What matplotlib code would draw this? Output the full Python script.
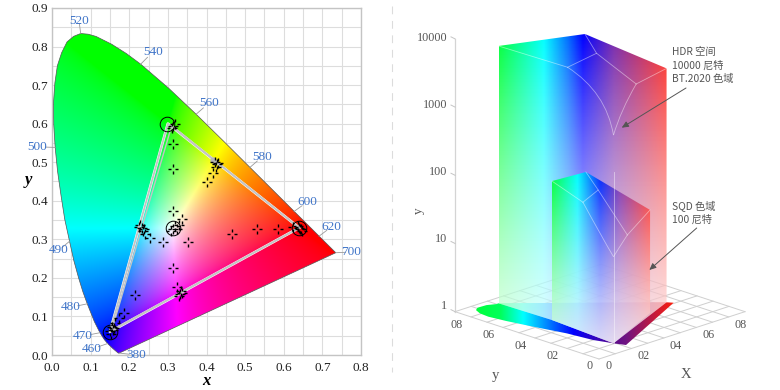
#
# Chromaticity diagram with gamut triangle (left) and 3D colour volumes (right)
#
import numpy as np
import matplotlib
matplotlib.use('Agg')
import matplotlib.pyplot as plt
from matplotlib.path import Path
from matplotlib.patches import PathPatch

CJK = ['Noto Sans CJK SC', 'DejaVu Sans']
SERIF = 'Liberation Serif'

# spectral locus, CIE 1931
locus_x = [.1741, .1733, .1714, .1644, .1566, .1440, .1355, .1241, .1096, .0913, .0800, .0687, .0565, .0454, .0330,
           .0235, .0145, .0082, .0045, .0039, .0075, .0139, .0250, .0389, .0560, .0743, .0940, .1142, .1547, .1929,
           .2296, .3016, .3731, .4441, .5125, .5752, .6270, .6658, .6915, .7190, .7347]
locus_y = [.0050, .0048, .0051, .0109, .0177, .0297, .0399, .0578, .0868, .1327, .1640, .2007, .2450, .2950, .3520,
           .4127, .4760, .5384, .5980, .6548, .7060, .7502, .7840, .8120, .8265, .8338, .8320, .8262, .8059, .7816,
           .7543, .6923, .6245, .5547, .4866, .4242, .3725, .3340, .3083, .2809, .2653]
# wavelength labels
wave_labels = ['520', '540', '560', '580', '600', '620', '700', '500', '490', '480', '470', '460', '380']
wave_x = [.070, .261, .407, .544, .661, .723, .775, -.039, .018, .049, .080, .104, .218]
wave_y = [.866, .786, .654, .514, .397, .332, .267, .540, .272, .124, .049, .016, .000]
wave_tick_x = [.0743, .2296, .3731, .5125, .6270, .6915, .7347, .0082, .0454, .0913, .1241, .1440, .1741]
wave_tick_y = [.8338, .7543, .6245, .4866, .3725, .3083, .2653, .5384, .2950, .1327, .0578, .0297, .0050]
# measured points
meas_x = [.215, .314, .351, .288, .254, .241, .465, .530, .586, .625, .642, .636, .648, .640, .645, .314, .336, .323,
          .314, .308, .318, .328, .232, .226, .238, .229, .235, .323, .332, .337, .329, .335, .187, .174, .163, .155,
          .150, .157, .152, .160, .314, .312, .310, .314, .318, .402, .418, .428, .422, .425, .430]
meas_y = [.155, .226, .294, .294, .304, .313, .315, .328, .328, .331, .328, .335, .322, .330, .326, .373, .353, .328,
          .328, .322, .334, .336, .330, .333, .326, .336, .322, .177, .158, .160, .152, .165, .110, .097, .082, .073,
          .062, .065, .055, .070, .546, .482, .588, .594, .600, .449, .473, .495, .501, .488, .497]
# primaries
prim_x = [.64, .30, .15]
prim_y = [.33, .60, .06]
prim2_x = [.64, .31, .155]
prim2_y = [.33, .595, .065]
ring_x = [.297, .3127, .64, .15]
ring_y = [.598, .329, .33, .06]

# right panel, floor coordinates x, y and luminance
lum_ticks = [1, 10, 100, 1000, 10000]
lum_labels = ['1', '10', '100', '1000', '10000']
floor_ticks = [.2, .4, .6, .8]
floor_labels = ['02', '04', '06', '08']
floor_x = [.080, .061, .056, .071, .101, .142, .161, .193, .216, .763, .745, .214, .200, .160, .107]
floor_y = [.850, .806, .748, .651, .513, .345, .200, .105, .050, .307, .333, .845, .844, .865, .868]
# inner edge of the floor, from the green corner down to blue and back up to red
back_x = [.214, .222, .193, .745]
back_y = [.845, .519, .105, .333]

big_x = [.214, .449, .745]
big_y = [.845, .543, .333]
big_lum = [5930, 10000, 2690]
small_x = [.222, .437, .593]
small_y = [.519, .525, .282]
small_lum = [109, 100, 32.4]
blue_x, blue_y = .193, .105

big_ramp_pos = [498.7, 543, 567, 582, 613, 666.7]
big_ramp_rgb = [(0, 255, 60), (0, 255, 255), (0, 110, 255), (0, 0, 255), (120, 40, 170), (255, 40, 30)]
small_ramp_pos = [552, 577, 600, 620, 650]
small_ramp_rgb = [(0, 255, 60), (0, 255, 255), (0, 40, 255), (130, 50, 170), (255, 40, 30)]
floor_ramp_pos = [476, 500, 523, 573, 613, 626, 674]
floor_ramp_rgb = [(0, 255, 60), (0, 255, 90), (0, 255, 255), (0, 0, 255), (90, 10, 140), (110, 20, 130), (255, 30, 10)]

# top surface creases: corner, mid point, apex
big_mid_x = [.418, .640, .473]
big_mid_y = [.620, .664, .247]
big_mid_lum = 3000
big_ctrl_x = [.304, .177]
big_ctrl_y = [.264, .043]
big_apex_lum = 1130
small_mid_x = [.479, .642, .308]
small_mid_y = [.586, .656, .135]
small_mid_lum = 30
small_ctrl_x = [.208, .150]
small_ctrl_y = [.193, .031]
small_apex_lum = 18.6


def project(x, y, lum=1):
    # floor and log height to figure pixels
    px = 599 + 162.2 * np.asarray(x) - 160 * np.asarray(y)
    py = 359 - 52.6 * (np.asarray(x) + np.asarray(y)) - 68.2 * np.log10(lum)
    return px, py


def xy_to_rgb(x, y):
    # chromaticity to normalised sRGB
    y = np.maximum(y, 1e-4)
    X = x / y
    Z = (1 - x - y) / y
    r = 3.2406 * X - 1.5372 - 0.4986 * Z
    g = -0.9689 * X + 1.8758 + 0.0415 * Z
    b = 0.0557 * X - 0.2040 + 1.0570 * Z
    rgb = np.clip(np.dstack([r, g, b]), 0, None)
    rgb = rgb / np.maximum(rgb.max(axis=2, keepdims=True), 1e-6)
    return rgb ** 0.62


def ramp_image(pos, rgb, x0, x1, y0, y1, fade, alpha_drop):
    # horizontal colour ramp that goes pale towards the bottom
    xs = np.linspace(x0, x1, 200)
    ys = np.linspace(0, 1, 200)
    cols = np.array(rgb) / 255
    row = np.stack([np.interp(xs, pos, cols[:, i]) for i in range(3)], axis=1)
    img = np.ones((200, 200, 4))
    for i, t in enumerate(ys):
        img[i, :, :3] = row * (1 - t * fade) + t * fade
        img[i, :, 3] = 1 - t * alpha_drop
    return img


def draw_ramp(ax, px, py, pos, rgb, fade=0.0, alpha_drop=0.0):
    x0, x1, y0, y1 = min(px), max(px), min(py), max(py)
    im = ax.imshow(ramp_image(pos, rgb, x0, x1, y0, y1, fade, alpha_drop), extent=(x0, x1, y1, y0), origin='upper',
                   aspect='auto', zorder=2, interpolation='bilinear')
    im.set_clip_path(PathPatch(Path(np.column_stack([px, py]), closed=False), transform=ax.transData))


fig = plt.figure(figsize=(7.8, 3.9), dpi=100)

#
# left panel
#
ax = fig.add_axes([52 / 780, 1 - 355 / 390, 309 / 780, 347 / 390])
gx, gy = np.meshgrid(np.linspace(0, .8, 500), np.linspace(0, .9, 500))
im = ax.imshow(xy_to_rgb(gx, gy), extent=(0, .8, 0, .9), origin='lower', aspect='auto', zorder=2,
               interpolation='bilinear')
outline = PathPatch(Path(np.column_stack([locus_x + locus_x[:1], locus_y + locus_y[:1]])), fc='none', ec='#555555',
                    lw=0.5, zorder=3)
ax.add_patch(outline)
im.set_clip_path(outline)
for tx, ty, lx, ly in zip(wave_tick_x, wave_tick_y, wave_x, wave_y):
    d = np.hypot(lx - tx, ly - ty)
    ax.plot([tx, tx + (lx - tx) / d * .025], [ty, ty + (ly - ty) / d * .025], color='#9a9a9a', lw=0.6, zorder=3,
            clip_on=False)
for name, lx, ly in zip(wave_labels, wave_x, wave_y):
    ax.text(lx, ly, name, color='#3f74c8', fontsize=9.5, family=SERIF, ha='center', va='center', zorder=6)
ax.plot(prim_x + prim_x[:1], prim_y + prim_y[:1], color='white', lw=2.0, zorder=4, solid_capstyle='round')
ax.plot(prim_x + prim_x[:1], prim_y + prim_y[:1], color='#c4c4c4', lw=1.3, zorder=4)
ax.plot(prim2_x + prim2_x[:1], prim2_y + prim2_y[:1], color='#c4c4c4', lw=1.0, zorder=4)
ax.plot([.418], [.505], 'o', color='#b8b8b8', ms=3.5, zorder=4)
cross = Path([(0, .2), (0, .5), (0, -.2), (0, -.5), (.2, 0), (.5, 0), (-.2, 0), (-.5, 0)],
             [Path.MOVETO, Path.LINETO] * 4)
ax.plot(meas_x, meas_y, ls='none', marker=cross, ms=7, mfc='none', mec='black', mew=1.0, zorder=5)
ax.plot(ring_x, ring_y, ls='none', marker='o', ms=10.5, mfc='none', mec='black', mew=0.7, zorder=5)
ax.set_xlim(0, .8)
ax.set_ylim(0, .9)
ax.set_xticks(np.arange(0, .81, .1))
ax.set_yticks(np.arange(0, .91, .1))
ax.set_xticks(np.arange(0, .81, .05), minor=True)
ax.set_yticks(np.arange(0, .91, .05), minor=True)
ax.grid(which='both', color='#dddddd', lw=0.8, zorder=0)
ax.set_axisbelow(True)
ax.tick_params(which='both', length=0, labelsize=9.5, labelcolor='#222222')
ax.tick_params(axis='x', pad=5)
ax.tick_params(axis='y', pad=3)
for lab in ax.get_xticklabels() + ax.get_yticklabels():
    lab.set_family(SERIF)
for sp in ax.spines.values():
    sp.set_color('#c4c4c4')
    sp.set_linewidth(1.0)
ax.set_xlabel('x', family=SERIF, style='italic', weight='bold', fontsize=12, labelpad=-1)
ax.set_ylabel('y', family=SERIF, style='italic', weight='bold', fontsize=12, rotation=0, va='center')
ax.yaxis.set_label_coords(-.075, .504)

#
# right panel, drawn on a full figure axes in pixels
#
pa = fig.add_axes([0, 0, 1, 1], facecolor='none')
pa.set_xlim(0, 780)
pa.set_ylim(390, 0)
pa.axis('off')

# divider
pa.plot([391.7, 391.7], [6, 372], color='#dcdcdc', lw=0.8, ls=(0, (7, 6)))

# floor grid
for v in np.arange(0, .91, .1):
    px, py = project([v, v], [0, .9])
    pa.plot(px, py, color='#cfcfcf', lw=0.7, zorder=1)
    px, py = project([0, .9], [v, v])
    pa.plot(px, py, color='#cfcfcf', lw=0.7, zorder=1)

# luminance axis
ax_px, ax_py = project(0, .9)
top_px, top_py = project(0, .9, 10000)
pa.plot([ax_px, top_px], [ax_py, top_py], color='#d4d4d4', lw=0.9, zorder=1)
for lum, name in zip(lum_ticks, lum_labels):
    px, py = project(0, .9, lum)
    pa.plot([px - 4, px], [py - 2, py], color='#c4c4c4', lw=0.7, zorder=1)
    pa.text(px - 8, py - 6 + 1.25 * np.log10(lum), name, family=SERIF, fontsize=8.7, color='#555555', ha='right',
            va='center')
pa.text(419, 211, 'y', family=SERIF, fontsize=9.5, color='#555555', rotation=90, ha='center', va='center')

for v, name in zip(floor_ticks, floor_labels):
    px, py = project(v, 0)
    pa.text(px + 12, py + 8, name, family=SERIF, fontsize=8.7, color='#555555', ha='center', va='center')
    px, py = project(0, v)
    pa.text(px - 14, py + 8, name, family=SERIF, fontsize=8.7, color='#555555', ha='center', va='center')
pa.text(589.5, 366, '0', family=SERIF, fontsize=8.7, color='#555555', ha='center', va='center')
pa.text(609, 366, '0', family=SERIF, fontsize=8.7, color='#555555', ha='center', va='center')
pa.text(686, 374, 'X', family=SERIF, fontsize=10.5, color='#555555', ha='center', va='center')
pa.text(495, 376, 'y', family=SERIF, fontsize=10.5, color='#555555', ha='center', va='center')

# floor gamut
fx, fy = project(floor_x, floor_y)
draw_ramp(pa, fx, fy, floor_ramp_pos, floor_ramp_rgb)
bx, by = project(back_x, back_y)
pa.fill(bx, by, color='white', alpha=0.4, lw=0, zorder=2)

# big volume
tx, ty = project(big_x, big_y, big_lum)
lx, ly = project(back_x, back_y)
wx = list(tx) + list(lx[::-1])
wy = list(ty) + list(ly[::-1])
draw_ramp(pa, wx, wy, big_ramp_pos, big_ramp_rgb, fade=0.86, alpha_drop=0.35)

# small volume
tx2, ty2 = project(small_x, small_y, small_lum)
sx, sy = project([small_x[2], blue_x, small_x[0]], [small_y[2], blue_y, small_y[0]])
wx2 = list(tx2) + list(sx)
wy2 = list(ty2) + list(sy)
draw_ramp(pa, wx2, wy2, small_ramp_pos, small_ramp_rgb, fade=0.9, alpha_drop=0.3)


def creases(cx, cy, clum, mx, my, mlum, ctrl_x, ctrl_y, apex_lum):
    # thin lines on the top surface of a volume
    cp = np.column_stack(project(cx, cy, clum))
    mp = np.column_stack(project(mx, my, mlum))
    kp = np.column_stack(project(ctrl_x, ctrl_y, mlum))
    ap = np.array(project(blue_x, blue_y, apex_lum))
    kw = dict(color='white', alpha=0.45, lw=0.6, zorder=3)
    pa.plot([cp[0, 0], mp[0, 0]], [cp[0, 1], mp[0, 1]], **kw)
    pa.plot([cp[1, 0], mp[1, 0]], [cp[1, 1], mp[1, 1]], **kw)
    pa.plot([cp[2, 0], mp[2, 0]], [cp[2, 1], mp[2, 1]], **kw)
    pa.plot([mp[0, 0], mp[1, 0], mp[2, 0]], [mp[0, 1], mp[1, 1], mp[2, 1]], **kw)
    for a, k in ((mp[0], kp[0]), (mp[2], kp[1])):
        curve = Path([a, k, ap], [Path.MOVETO, Path.CURVE3, Path.CURVE3])
        pa.add_patch(PathPatch(curve, fc='none', ec='white', alpha=0.45, lw=0.6, zorder=3))


creases(big_x, big_y, big_lum, big_mid_x, big_mid_y, big_mid_lum, big_ctrl_x, big_ctrl_y, big_apex_lum)
creases(small_x, small_y, small_lum, small_mid_x, small_mid_y, small_mid_lum, small_ctrl_x, small_ctrl_y,
        small_apex_lum)
vx, vy = project([blue_x, blue_x], [blue_y, blue_y], np.array([1, 324]))
pa.plot(vx, vy, color='white', alpha=0.5, lw=0.6, zorder=3)

# notes
note = dict(family=CJK, fontsize=7.4, color='#555555', ha='left', va='center', zorder=6)
for yy, txt in zip([52, 66, 79], ['HDR 空间', '10000 尼特', 'BT.2020 色域']):
    pa.text(672, yy, txt, **note)
for yy, txt in zip([207, 220], ['SQD 色域', '100 尼特']):
    pa.text(672, yy, txt, **note)
arrow = dict(arrowstyle='-|>,head_width=0.18,head_length=0.4', color='#555555', lw=0.7, shrinkA=0, shrinkB=0)
pa.annotate('', xy=(621.7, 127.7), xytext=(686, 88), arrowprops=arrow, zorder=6)
pa.annotate('', xy=(649.3, 270), xytext=(696.7, 228), arrowprops=arrow, zorder=6)

fig.savefig('out.png', dpi=100)
